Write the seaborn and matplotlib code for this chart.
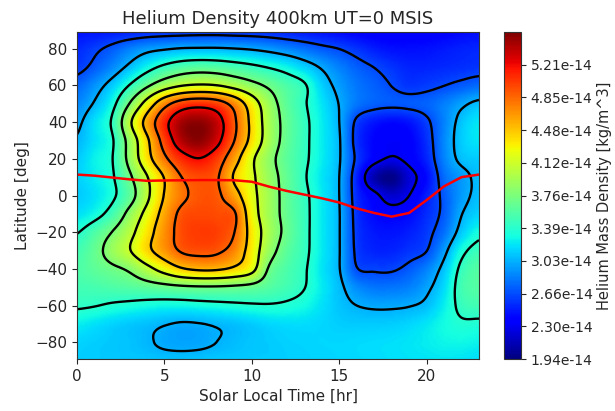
import numpy as np
import pandas as pd
import matplotlib
matplotlib.use("Agg")
import matplotlib.pyplot as plt
import seaborn as sns

# Helium mass density at 400 km (units of 1e-14 kg/m^3), sampled every hour of
# solar local time (columns, 0..23 h) and every 10 deg of latitude (rows, 90 .. -90).
local_time = np.arange(0, 24)
latitude = np.arange(90, -91, -10)
density_rows = [
    [2.45, 2.46, 2.48, 2.50, 2.53, 2.55, 2.56, 2.57, 2.57, 2.56, 2.55, 2.53, 2.50, 2.47, 2.44, 2.41, 2.38, 2.36, 2.35, 2.35, 2.36, 2.38, 2.41, 2.43],  # 90
    [2.54, 2.62, 2.72, 2.85, 2.95, 3.00, 3.04, 3.05, 3.05, 3.03, 3.00, 2.95, 2.88, 2.80, 2.72, 2.66, 2.58, 2.50, 2.45, 2.44, 2.45, 2.48, 2.51, 2.53],  # 80
    [2.60, 2.72, 2.88, 3.08, 3.28, 3.45, 3.56, 3.60, 3.58, 3.52, 3.45, 3.37, 3.28, 3.15, 3.00, 2.86, 2.74, 2.66, 2.58, 2.52, 2.52, 2.54, 2.56, 2.58],  # 70
    [2.76, 2.92, 3.12, 3.40, 3.70, 3.95, 4.10, 4.15, 4.12, 4.00, 3.85, 3.70, 3.55, 3.42, 3.15, 2.96, 2.82, 2.74, 2.66, 2.58, 2.61, 2.66, 2.72, 2.78],  # 60
    [2.88, 3.05, 3.30, 3.76, 4.25, 4.72, 5.00, 5.08, 5.00, 4.72, 4.30, 3.90, 3.62, 3.42, 3.22, 3.02, 2.82, 2.74, 2.71, 2.72, 2.75, 2.85, 2.98, 3.08],  # 50
    [2.98, 3.20, 3.42, 4.05, 4.60, 5.10, 5.45, 5.52, 5.35, 4.90, 4.40, 3.95, 3.66, 3.45, 3.25, 3.03, 2.62, 2.47, 2.42, 2.46, 2.62, 2.86, 3.10, 3.22],  # 40
    [3.05, 3.20, 3.36, 3.88, 4.42, 4.98, 5.40, 5.52, 5.30, 4.85, 4.38, 3.95, 3.65, 3.45, 3.25, 3.05, 2.58, 2.40, 2.34, 2.38, 2.56, 2.88, 3.12, 3.22],  # 30
    [3.12, 3.26, 3.38, 3.85, 4.35, 4.78, 5.08, 5.20, 5.02, 4.62, 4.18, 3.85, 3.62, 3.44, 3.25, 3.05, 2.62, 2.38, 2.28, 2.36, 2.52, 2.86, 3.08, 3.12],  # 20
    [3.14, 3.24, 3.36, 3.70, 4.10, 4.50, 4.85, 4.95, 4.88, 4.45, 4.18, 3.88, 3.65, 3.42, 3.22, 3.03, 2.52, 2.10, 1.97, 2.22, 2.42, 2.78, 2.95, 3.08],  # 10
    [3.12, 3.20, 3.34, 3.62, 4.05, 4.50, 4.78, 4.92, 4.90, 4.62, 4.22, 3.92, 3.65, 3.45, 3.24, 3.03, 2.55, 2.36, 2.20, 2.30, 2.50, 2.72, 2.95, 3.08],  # 0
    [3.20, 3.30, 3.50, 3.85, 4.22, 4.60, 4.92, 4.97, 4.95, 4.88, 4.28, 3.92, 3.66, 3.46, 3.24, 3.04, 2.58, 2.42, 2.38, 2.42, 2.55, 2.72, 3.02, 3.15],  # -10
    [3.38, 3.55, 3.76, 4.02, 4.35, 4.68, 4.95, 5.02, 5.00, 4.85, 4.35, 3.95, 3.68, 3.46, 3.24, 3.04, 2.60, 2.48, 2.46, 2.50, 2.60, 2.80, 3.12, 3.32],  # -20
    [3.50, 3.65, 3.88, 4.10, 4.40, 4.65, 4.88, 4.93, 4.90, 4.72, 4.32, 3.88, 3.62, 3.45, 3.24, 3.04, 2.62, 2.52, 2.52, 2.58, 2.66, 2.96, 3.32, 3.48],  # -30
    [3.55, 3.62, 3.70, 3.80, 4.02, 4.25, 4.45, 4.53, 4.52, 4.42, 4.22, 3.72, 3.55, 3.42, 3.22, 3.04, 2.68, 2.64, 2.64, 2.72, 2.86, 3.10, 3.45, 3.58],  # -40
    [3.50, 3.52, 3.55, 3.58, 3.62, 3.66, 3.70, 3.72, 3.72, 3.70, 3.66, 3.58, 3.50, 3.40, 3.24, 3.08, 2.90, 2.82, 2.82, 2.86, 2.98, 3.18, 3.50, 3.58],  # -50
    [3.42, 3.40, 3.36, 3.33, 3.30, 3.28, 3.28, 3.30, 3.32, 3.34, 3.36, 3.37, 3.35, 3.30, 3.20, 3.10, 3.03, 3.00, 3.00, 3.02, 3.08, 3.25, 3.45, 3.50],  # -60
    [3.25, 3.20, 3.15, 3.11, 3.08, 3.04, 3.01, 3.02, 3.05, 3.08, 3.12, 3.16, 3.18, 3.18, 3.16, 3.13, 3.12, 3.12, 3.13, 3.16, 3.22, 3.30, 3.36, 3.35],  # -70
    [3.15, 3.13, 3.11, 3.09, 3.05, 3.00, 2.98, 2.99, 3.03, 3.07, 3.10, 3.12, 3.14, 3.15, 3.16, 3.16, 3.17, 3.18, 3.19, 3.21, 3.24, 3.27, 3.28, 3.26],  # -80
    [3.13, 3.12, 3.11, 3.10, 3.10, 3.09, 3.09, 3.10, 3.11, 3.11, 3.12, 3.12, 3.13, 3.14, 3.15, 3.16, 3.17, 3.18, 3.19, 3.20, 3.21, 3.22, 3.21, 3.18],  # -90
]
density_scale = 1e-14

# Colour range of the density map (kg/m^3)
density_min = 1.9375e-14
density_max = 5.5745e-14

# Geographic latitude of the magnetic equator along the local-time axis
equator_lt = np.arange(0, 24)
equator_lat = [11.4, 10.8, 9.8, 8.8, 8.0, 8.2, 8.3, 8.4, 8.4, 8.3, 7.5, 4.8,
               2.5, 0.5, -1.5, -3.8, -7.0, -9.5, -11.5, -9.5, -2.5, 5.0, 10.0, 11.4]


def cubic_resample(values, new_pos, axis):
    """Catmull-Rom resampling of samples on a unit-spaced index along one axis."""
    values = np.moveaxis(np.asarray(values, dtype=float), axis, -1)
    n = values.shape[-1]
    i = np.clip(np.floor(new_pos).astype(int), 0, n - 2)
    t = new_pos - i
    p0 = values[..., np.clip(i - 1, 0, n - 1)]
    p1 = values[..., i]
    p2 = values[..., i + 1]
    p3 = values[..., np.clip(i + 2, 0, n - 1)]
    out = 0.5 * (2 * p1 + (-p0 + p2) * t + (2 * p0 - 5 * p1 + 4 * p2 - p3) * t ** 2
                 + (-p0 + 3 * p1 - 3 * p2 + p3) * t ** 3)
    return np.moveaxis(out, -1, axis)


grid = np.array(density_rows)[::-1] * density_scale   # rows now go -90 .. 90
lat_grid = latitude[::-1]

# smooth surface for display
lt_fine = np.linspace(local_time[0], local_time[-1], 231)
lat_fine = np.linspace(lat_grid[0], lat_grid[-1], 181)
lt_idx = (lt_fine - local_time[0]) / 1.0
lat_idx = (lat_fine - lat_grid[0]) / 10.0
surface = cubic_resample(cubic_resample(grid, lt_idx, axis=1), lat_idx, axis=0)

levels = np.linspace(density_min, density_max, 11)

sns.set_style("ticks")
plt.rcParams["font.family"] = ["DejaVu Sans"]
plt.rcParams["font.size"] = 11

fig = plt.figure(figsize=(6.15, 4.11), dpi=100)
ax = fig.add_axes([0.1252, 0.1265, 0.6537, 0.7956])
cax = fig.add_axes([0.8195, 0.1265, 0.0276, 0.7956])

mesh = ax.pcolormesh(lt_fine, lat_fine, surface, cmap="jet", shading="gouraud",
                     vmin=density_min, vmax=density_max)
ax.contour(lt_fine, lat_fine, surface, levels=levels[1:-1], colors="k", linewidths=1.7)

equator = pd.DataFrame({"lt": equator_lt, "lat": equator_lat})
sns.lineplot(data=equator, x="lt", y="lat", ax=ax, color="red", linewidth=1.8)

ax.set_xlim(0, 23)
ax.set_ylim(-89, 89)
ax.set_xticks([0, 5, 10, 15, 20])
ax.set_yticks([-80, -60, -40, -20, 0, 20, 40, 60, 80])
ax.set_xlabel("Solar Local Time [hr]")
ax.set_ylabel("Latitude [deg]")
ax.set_title("Helium Density 400km UT=0 MSIS", fontsize=13)
for side in ax.spines.values():
    side.set_visible(True)
    side.set_color("#333333")

cbar = fig.colorbar(mesh, cax=cax, ticks=levels[:-1], format="%.2e")
cbar.ax.tick_params(labelsize=10)
cbar.set_label("Helium Mass Density [kg/m^3]", fontsize=10.5, labelpad=3)
cbar.outline.set_edgecolor("#333333")

fig.savefig("out.png", dpi=100)
